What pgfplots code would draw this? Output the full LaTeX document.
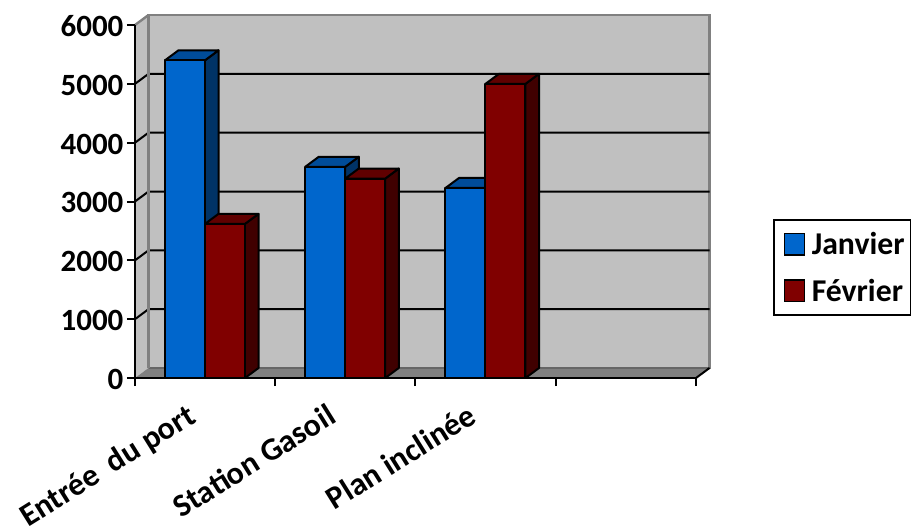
\documentclass[border=0pt]{standalone}
\usepackage{fontspec}
\setmainfont{Carlito}
\usepackage{pgfplots}
\pgfplotsset{compat=1.18}
\definecolor{bluef}{HTML}{0066CC}
\definecolor{bluet}{HTML}{004C99}
\definecolor{blues}{HTML}{003366}
\definecolor{redf}{HTML}{800000}
\definecolor{redt}{HTML}{600000}
\definecolor{reds}{HTML}{400000}
\definecolor{wall}{HTML}{C0C0C0}
\definecolor{floorc}{HTML}{808080}
% x = left edge of the bar, v = value; depth offset 0.0963 / 170, bar width 0.2852
\newcommand{\threebar}[5]{%
 \addplot[forget plot,fill=#5,draw=black,line width=1.5pt,line join=round] coordinates {(#1+0.2852,0) (#1+0.3815,170) (#1+0.3815,#2+170) (#1+0.2852,#2) (#1+0.2852,0)};
 \addplot[forget plot,fill=#4,draw=black,line width=1.5pt,line join=round] coordinates {(#1,#2) (#1+0.0963,#2+170) (#1+0.3815,#2+170) (#1+0.2852,#2) (#1,#2)};
 \addplot[forget plot,fill=#3,draw=black,line width=1.5pt,line join=round] coordinates {(#1,0) (#1,#2) (#1+0.2852,#2) (#1+0.2852,0) (#1,0)};
}
\newcommand{\gridl}[1]{%
 \addplot[forget plot,draw=black,line width=1.5pt] coordinates {(0,#1) (0.0963,#1+170) (4.0963,#1+170)};
}
\begin{document}
\begin{tikzpicture}[x=0.75pt,y=0.75pt]
\useasboundingbox (-135,-148) rectangle (776,378);
\begin{axis}[
 at={(0,0)},anchor=south west,
 scale only axis,width=420.75pt,height=264.75pt,
 xmin=0,xmax=4,ymin=0,ymax=6000,
 clip=false,axis on top,
 axis x line=bottom,axis y line=left,
 axis line style={-,line width=1.5pt,black},
 xtick={0,1,2,3,4},xticklabels={},
 ytick={0,1000,...,6000},
 tick style={black,line width=1.5pt},
 tick align=outside,
 major tick length=6pt,
 /pgf/number format/assume math mode=true,
 /pgf/number format/set thousands separator={},
 yticklabel style={font=\fontsize{23.2}{25}\selectfont\bfseries,inner sep=1pt,xshift=-1.5pt,yshift=-1pt},
 extra x ticks={0.5,1.5,2.5},
 extra x tick labels={Entrée\ \ du port,Station Gasoil,Plan inclinée},
 extra x tick style={major tick length=0pt,
   xticklabel style={font=\fontsize{24}{26}\selectfont\bfseries,rotate=32,anchor=north east,inner sep=0pt,yshift=-7.6pt,xshift=-22pt}},
 legend style={at={(1.137,0.45)},anchor=north west,draw=black,line width=1.5pt,fill=white,
   font=\fontsize{23.8}{26}\selectfont\bfseries,inner xsep=3pt,inner ysep=7pt,row sep=12.75pt,
   cells={anchor=west}},
 legend image code/.code={\path (0pt,0pt);\draw[#1] (4.25pt,-8pt) rectangle (19.25pt,8pt);\path (22.25pt,0pt);},
]
\addlegendimage{fill=bluef,draw=black,line width=1.2pt}
\addlegendentry{Janvier}
\addlegendimage{fill=redf,draw=black,line width=1.2pt}
\addlegendentry{Février}
% walls
\addplot[forget plot,fill=wall,draw=floorc,line width=1.8pt] coordinates {(0.0963,170) (0.0963,6170) (4.0963,6170) (4.0963,170) (0.0963,170)};
\addplot[forget plot,fill=wall,draw=none] coordinates {(0,0) (0,6000) (0.0963,6170) (0.0963,170) (0,0)};
\addplot[forget plot,draw=floorc,line width=1.8pt] coordinates {(0,6000) (0.0963,6170)};
\addplot[forget plot,fill=floorc,draw=none] coordinates {(0,0) (0.0963,170) (4.0963,170) (4,0) (0,0)};
\addplot[forget plot,draw=black!60,line width=1pt] coordinates {(0.0963,170) (4.0963,170)};
\addplot[forget plot,draw=black,line width=1.5pt] coordinates {(4,0) (4.0963,170)};
\gridl{1000}\gridl{2000}\gridl{3000}\gridl{4000}\gridl{5000}
\addplot[forget plot,draw=floorc,line width=1.8pt] coordinates {(0.0963,170) (0.0963,6170)};
% bars
\threebar{0.2139}{5400}{bluef}{bluet}{blues}
\threebar{0.4991}{2620}{redf}{redt}{reds}
\threebar{1.2139}{3590}{bluef}{bluet}{blues}
\threebar{1.4991}{3390}{redf}{redt}{reds}
\threebar{2.2139}{3230}{bluef}{bluet}{blues}
\threebar{2.4991}{5000}{redf}{redt}{reds}
\end{axis}
\end{tikzpicture}
\end{document}
